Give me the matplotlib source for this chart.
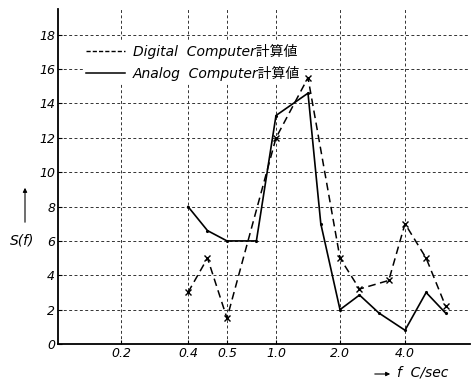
import numpy as np
import matplotlib
matplotlib.use('Agg')
import matplotlib.pyplot as plt
from matplotlib.lines import Line2D

plt.rcParams['font.family'] = ['DejaVu Sans', 'Noto Sans CJK JP']

# S(f), f in c/sec
digital_f = [0.4, 0.45, 0.5, 1.0, 1.5, 2.0, 2.6, 3.5, 4.0, 5.3, 6.5]
digital_s = [3.0, 5.0, 1.5, 12.0, 15.5, 5.0, 3.2, 3.7, 7.0, 5.0, 2.2]
analog_f = [0.4, 0.45, 0.5, 0.8, 1.0, 1.5, 1.7, 2.0, 2.6, 3.2, 4.0, 5.3, 6.5]
analog_s = [8.0, 6.6, 6.0, 6.0, 13.3, 14.6, 7.0, 2.0, 2.85, 1.8, 0.8, 3.0, 1.8]

xticks = [0.2, 0.4, 0.5, 1.0, 2.0, 4.0]
xticklabels = ['0.2', '0.4', '0.5', '1.0', '2.0', '4.0']
yticks = list(range(0, 19, 2))

# the original frequency axis is hand spaced, not a real log axis
scale_f = [0.1, 0.2, 0.4, 0.5, 1.0, 2.0, 4.0, 8.0]
scale_u = [0.0, 63, 130, 169, 218, 282, 347, 412]


def forward(x):
    return np.interp(x, scale_f, scale_u)


def inverse(u):
    return np.interp(u, scale_u, scale_f)


fig = plt.figure(figsize=(4.73, 3.84), dpi=100)
ax = fig.add_axes([58 / 473, 40 / 384, 412 / 473, 335 / 384])
ax.set_xscale('function', functions=(forward, inverse))
ax.set_xlim(0.1, 8.0)
ax.set_ylim(0, 19.5)

grid_ls = (0, (3, 2.5))
for f in xticks:
    ax.axvline(f, color='#333333', lw=0.7, ls=grid_ls, zorder=1)
for s in yticks[1:]:
    ax.axhline(s, color='#333333', lw=0.7, ls=grid_ls, zorder=1)

ax.plot(digital_f, digital_s, color='black', lw=1.1, ls=(0, (5, 3)),
        marker='x', ms=5, mew=1.0, zorder=3)
ax.plot(analog_f, analog_s, color='black', lw=1.2, marker='.', ms=2.5, zorder=3)

ax.set_xticks(xticks)
ax.set_xticklabels(xticklabels)
ax.xaxis.set_minor_locator(plt.NullLocator())
ax.set_yticks(yticks)
ax.tick_params(direction='in', length=3, width=0.8, pad=2, labelsize=9)
for lab in ax.get_xticklabels() + ax.get_yticklabels():
    lab.set_fontstyle('italic')

for side in ['top', 'right']:
    ax.spines[side].set_visible(False)
ax.spines['left'].set_linewidth(1.3)
ax.spines['bottom'].set_linewidth(1.3)

handles = [Line2D([], [], color='black', lw=1.0, ls=(0, (3, 1.5))),
           Line2D([], [], color='black', lw=1.1)]
labels = ['Digital  Computer計算値', 'Analog  Computer計算値']
leg = ax.legend(handles, labels, loc='upper left',
                bbox_to_anchor=(83 / 473, 1 - 41 / 384),
                bbox_transform=fig.transFigure, borderaxespad=0,
                borderpad=0.2, handlelength=2.8, handletextpad=0.6,
                labelspacing=0.5, fontsize=10, frameon=True,
                fancybox=False, framealpha=1, edgecolor='none')
for t in leg.get_texts():
    t.set_fontstyle('italic')

fig.text(22 / 473, 1 - 240 / 384, 'S(f)', ha='center', va='center',
         fontsize=10, style='italic')
ax.annotate('', xy=(25 / 473, 1 - 185 / 384), xytext=(25 / 473, 1 - 225 / 384),
            xycoords='figure fraction', textcoords='figure fraction',
            arrowprops=dict(arrowstyle='-|>', lw=0.8, color='black',
                            mutation_scale=6))

fig.text(397 / 473, 1 - 372 / 384, 'f  C/sec', ha='left', va='center',
         fontsize=10, style='italic')
ax.annotate('', xy=(393 / 473, 1 - 374 / 384), xytext=(372 / 473, 1 - 374 / 384),
            xycoords='figure fraction', textcoords='figure fraction',
            arrowprops=dict(arrowstyle='-|>', lw=0.8, color='black',
                            mutation_scale=6))

fig.savefig('out.png', dpi=100)
